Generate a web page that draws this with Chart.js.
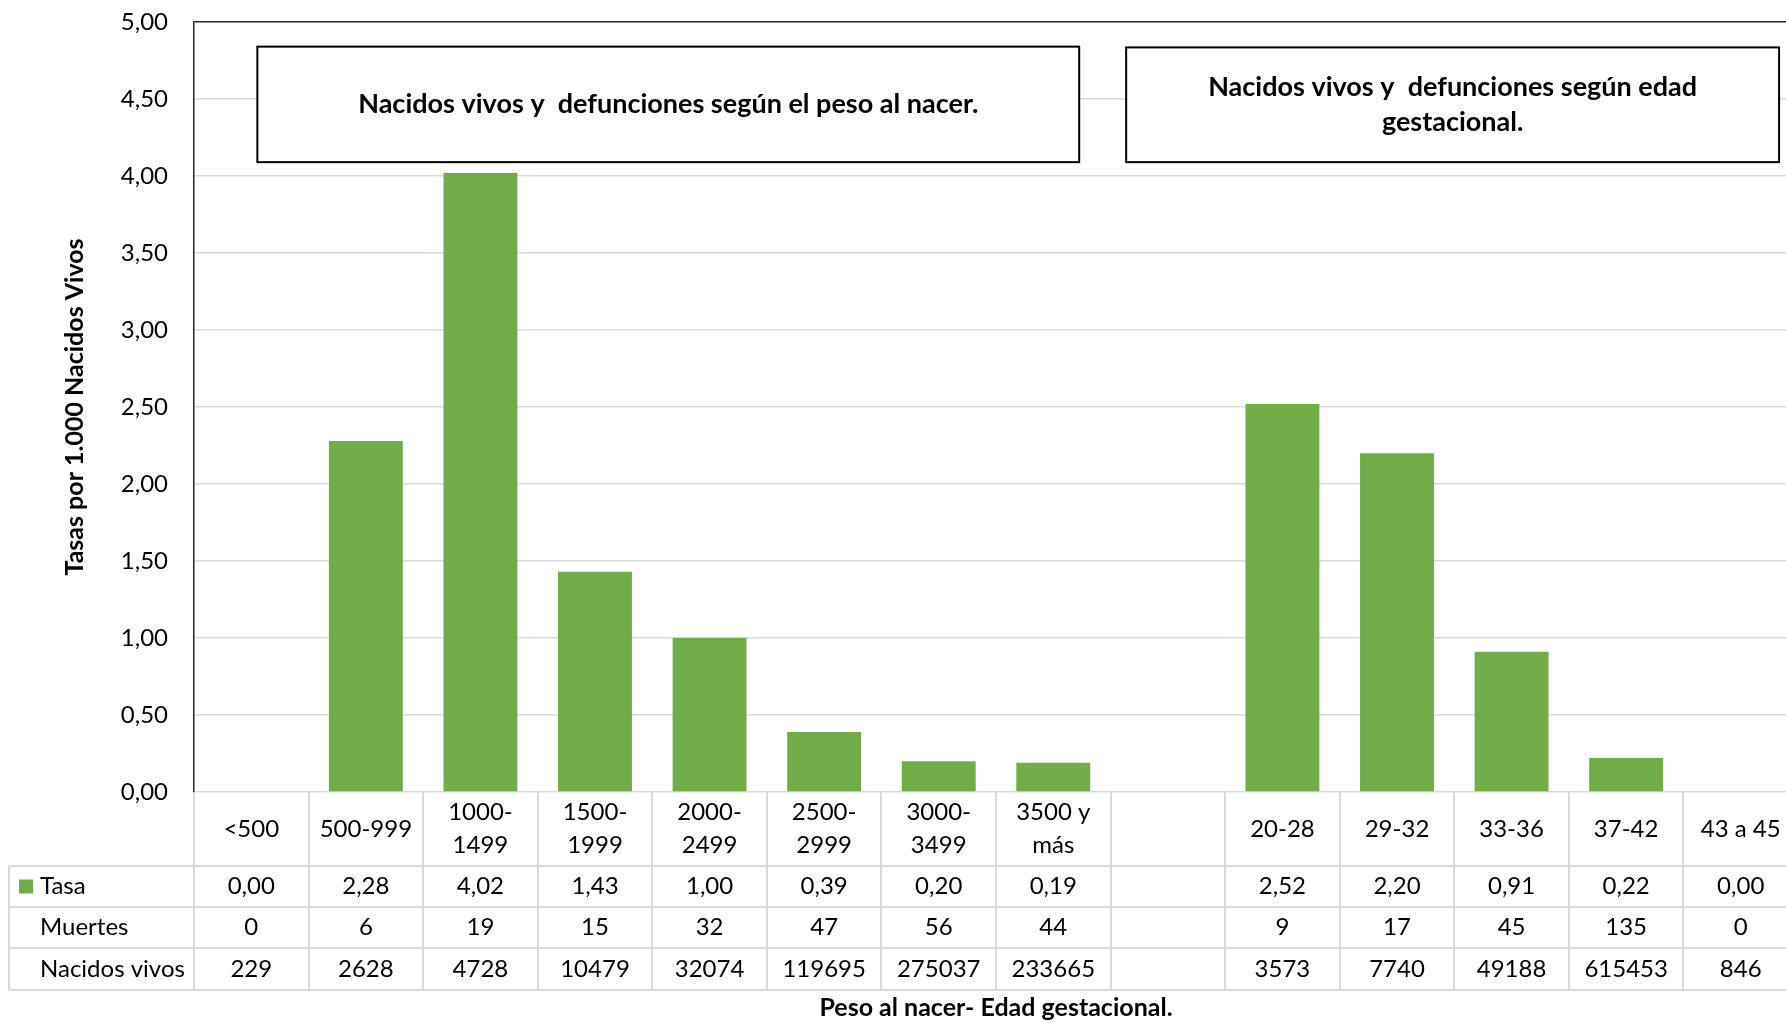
<!DOCTYPE html>
<html>
<head>
<meta charset="utf-8">
<script src="https://cdn.jsdelivr.net/npm/chart.js@4.4.0/dist/chart.umd.min.js"></script>
<style>
  html, body { margin: 0; padding: 0; overflow: hidden; background: #fff; }
</style>
</head>
<body>
<canvas id="myChart" width="1800" height="1023"></canvas>
<script>
// Datos (peso al nacer + hueco + edad gestacional)
const categories = [
  ['<500'], ['500-999'], ['1000-', '1499'], ['1500-', '1999'], ['2000-', '2499'],
  ['2500-', '2999'], ['3000-', '3499'], ['3500 y', 'más'], [''],
  ['20-28'], ['29-32'], ['33-36'], ['37-42'], ['43 a 45']
];
const tasa = [0.00, 2.28, 4.02, 1.43, 1.00, 0.39, 0.20, 0.19, null, 2.52, 2.20, 0.91, 0.22, 0.00];
const muertes = [0, 6, 19, 15, 32, 47, 56, 44, null, 9, 17, 45, 135, 0];
const nacidosVivos = [229, 2628, 4728, 10479, 32074, 119695, 275037, 233665, null, 3573, 7740, 49188, 615453, 846];
const rowNames = ['Tasa', 'Muertes', 'Nacidos vivos'];
const boxTitles = [
  ['Nacidos vivos y  defunciones según el peso al nacer.'],
  ['Nacidos vivos y  defunciones según edad', 'gestacional.']
];

const GREEN = '#70ad47';
const GRID = '#d9d9d9';
const FONT = 'Lato';

Chart.defaults.font.family = FONT;
Chart.defaults.color = '#000';

const fmt = v => (v === null || v === undefined) ? '' : v.toFixed(2).replace('.', ',');

// Cuadros de titulo + tabla de datos
const extras = {
  id: 'extras',
  afterDraw(chart) {
    const { ctx, chartArea, scales: { x, y } } = chart;
    const n = categories.length;
    const w = x.width / n;
    const top = chartArea.bottom;
    const rows = [top, top + 74, top + 115, top + 156, top + 198];
    const leftEdge = 9;

    ctx.save();

    // cuadros
    const boxes = [
      { x0: 0.053, x1: 7.226, y0: 4.84, y1: 4.09, lines: boxTitles[0] },
      { x0: 7.636, x1: 13.335, y0: 4.835, y1: 4.09, lines: boxTitles[1] }
    ];
    ctx.font = 'bold 27px ' + FONT;
    ctx.textAlign = 'center';
    ctx.textBaseline = 'middle';
    boxes.forEach(b => {
      const l = x.getPixelForValue(b.x0), r = x.getPixelForValue(b.x1);
      const t = y.getPixelForValue(b.y0), bt = y.getPixelForValue(b.y1);
      ctx.fillStyle = '#fff';
      ctx.fillRect(l, t, r - l, bt - t);
      ctx.strokeStyle = '#000';
      ctx.lineWidth = 2;
      ctx.strokeRect(l, t, r - l, bt - t);
      ctx.fillStyle = '#000';
      const cy = (t + bt) / 2, lh = 35;
      b.lines.forEach((s, i) => {
        ctx.fillText(s, (l + r) / 2, cy + (i - (b.lines.length - 1) / 2) * lh);
      });
    });

    // lineas de la tabla
    ctx.strokeStyle = GRID;
    ctx.lineWidth = 2;
    ctx.beginPath();
    for (let i = 0; i <= n; i++) {
      const px = Math.round(x.left + i * w);
      ctx.moveTo(px, rows[0]);
      ctx.lineTo(px, rows[4]);
    }
    for (let j = 1; j <= 4; j++) {
      ctx.moveTo(leftEdge, rows[j]);
      ctx.lineTo(x.right, rows[j]);
    }
    ctx.moveTo(leftEdge, rows[1]);
    ctx.lineTo(leftEdge, rows[4]);
    ctx.stroke();

    // etiquetas de categoria
    ctx.fillStyle = '#000';
    ctx.font = '24px ' + FONT;
    ctx.textAlign = 'center';
    ctx.textBaseline = 'middle';
    const headMid = (rows[0] + rows[1]) / 2;
    categories.forEach((lab, i) => {
      const cx = x.getPixelForValue(i);
      lab.forEach((s, k) => {
        ctx.fillText(s, cx, headMid + (k - (lab.length - 1) / 2) * 33);
      });
    });

    // filas
    const series = [tasa.map(fmt), muertes.map(v => v === null ? '' : String(v)), nacidosVivos.map(v => v === null ? '' : String(v))];
    series.forEach((vals, j) => {
      const cy = (rows[j + 1] + rows[j + 2]) / 2;
      vals.forEach((s, i) => ctx.fillText(s, x.getPixelForValue(i), cy));
    });

    // nombres de fila + leyenda
    ctx.textAlign = 'left';
    rowNames.forEach((s, j) => {
      const cy = (rows[j + 1] + rows[j + 2]) / 2;
      ctx.fillText(s, 40, cy);
    });
    ctx.fillStyle = GREEN;
    ctx.fillRect(19, (rows[1] + rows[2]) / 2 - 7, 14, 14);

    ctx.restore();
  }
};

const chart = new Chart(document.getElementById('myChart'), {
  type: 'bar',
  data: {
    labels: categories,
    datasets: [{
      label: 'Tasa',
      data: tasa,
      backgroundColor: GREEN,
      borderWidth: 0,
      barPercentage: 0.645,
      categoryPercentage: 1
    }]
  },
  options: {
    responsive: false,
    animation: false,
    layout: { padding: { top: 22, left: 0, right: 2, bottom: 0 } },
    plugins: { legend: { display: false }, tooltip: { enabled: false } },
    scales: {
      x: {
        grid: { display: false },
        border: { display: false },
        ticks: { display: false },
        title: {
          display: true,
          text: 'Peso al nacer- Edad gestacional.',
          font: { size: 25, weight: 'bold' },
          padding: { top: 0, bottom: 0 }
        },
        afterFit(scale) { scale.height = 231; }
      },
      y: {
        min: 0,
        max: 5,
        ticks: {
          stepSize: 0.5,
          padding: 26,
          font: { size: 24 },
          callback: v => fmt(v)
        },
        grid: {
          drawTicks: false,
          color: c => c.tick && c.tick.value === 5 ? '#262626' : GRID,
          lineWidth: 1.5
        },
        border: { display: true, color: '#262626', width: 1.5 },
        title: {
          display: true,
          text: 'Tasas por 1.000 Nacidos Vivos',
          font: { size: 25, weight: 'bold' },
          padding: { top: 60, bottom: 0 }
        },
        afterFit(scale) {
          scale.width = 194;
          scale.paddingTop = 0;
          scale.paddingBottom = 0;
        }
      }
    }
  },
  plugins: [extras]
});
</script>
</body>
</html>
